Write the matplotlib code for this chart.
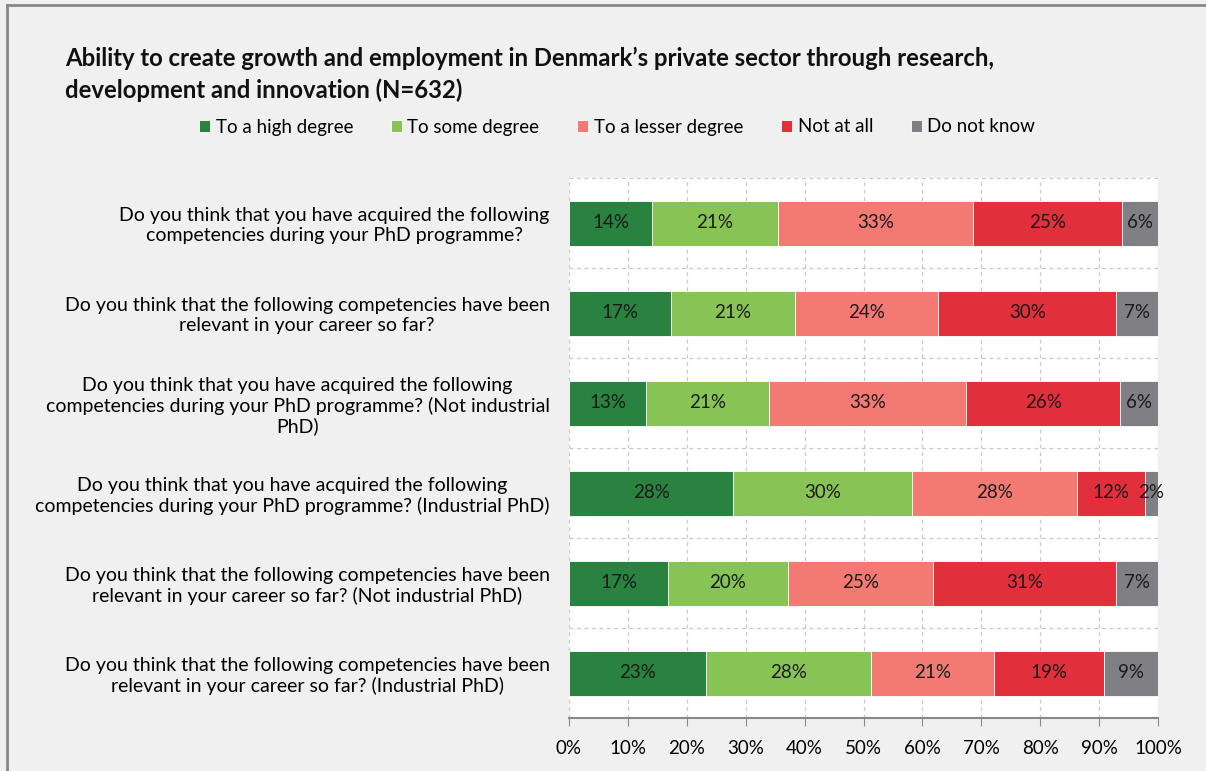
import numpy as np
import matplotlib.pyplot as plt
from matplotlib.lines import Line2D

plt.rcParams['font.family'] = ['Lato', 'DejaVu Sans']

questions = [
    "Do you think that you have acquired the following\ncompetencies during your PhD programme?",
    "Do you think that the following competencies have been\nrelevant in your career so far?",
    "Do you think that you have acquired the following\ncompetencies during your PhD programme? (Not industrial\nPhD)",
    "Do you think that you have acquired the following\ncompetencies during your PhD programme? (Industrial PhD)",
    "Do you think that the following competencies have been\nrelevant in your career so far? (Not industrial PhD)",
    "Do you think that the following competencies have been\nrelevant in your career so far? (Industrial PhD)",
]
series_names = ["To a high degree", "To some degree", "To a lesser degree", "Not at all", "Do not know"]
high = [14.1, 17.3, 13.1, 27.9, 16.8, 23.2]
some = [21.4, 21.0, 20.9, 30.3, 20.4, 28.0]
lesser = [33.1, 24.4, 33.4, 28.0, 24.6, 21.0]
not_at_all = [25.3, 30.2, 26.2, 11.6, 31.1, 18.6]
dont_know = [6.1, 7.1, 6.4, 2.2, 7.1, 9.2]
colors = ["#2a8240", "#87c455", "#f27a73", "#e1303c", "#808084"]

title = ("Ability to create growth and employment in Denmark\u2019s private sector through research,\n"
         "development and innovation (N=632)")

fig = plt.figure(figsize=(12.06, 7.71), dpi=100, facecolor="#f0f0f0")
ax = fig.add_axes([569 / 1206, 1 - 718 / 771, (1158 - 569) / 1206, 540 / 771])
ax.set_facecolor("white")

# frame of the chart area: only left and top edges are visible
bx, by = 7 / 1206, 1 - 5 / 771
fig.add_artist(Line2D([bx, 1.0], [by, by], transform=fig.transFigure, color="#888888", linewidth=2))
fig.add_artist(Line2D([bx, bx], [0.0, by], transform=fig.transFigure, color="#888888", linewidth=2))

y = np.arange(len(questions))
left = np.zeros(len(questions))
for name, vals, col in zip(series_names, [high, some, lesser, not_at_all, dont_know], colors):
    vals = np.array(vals)
    ax.barh(y, vals, left=left, height=0.5, color=col, label=name,
            edgecolor="white", linewidth=0.6, zorder=3)
    for xl, v, yy in zip(left, vals, y):
        ax.text(xl + v / 2, yy, f"{v:.0f}%", ha="center", va="center", fontsize=13.5,
                color="#1a1a1a", zorder=4)
    left = left + vals

ax.set_xlim(0, 100)
ax.set_ylim(len(questions) - 0.5, -0.5)
ax.set_xticks(np.arange(0, 101, 10))
ax.set_xticklabels([f"{t}%" for t in range(0, 101, 10)], fontsize=13.5)
ax.set_yticks(y)
ax.set_yticklabels(questions, fontsize=14, multialignment="center")
ax.set_yticks(np.arange(-0.5, len(questions), 1), minor=True)
ax.tick_params(axis="y", which="both", length=0, pad=14)
ax.tick_params(axis="x", length=6, color="#888888", pad=10)
ax.grid(axis="x", color="#c8c8c8", linestyle=(0, (3, 3)), linewidth=0.9, zorder=0)
ax.grid(axis="y", which="minor", color="#c8c8c8", linestyle=(0, (3, 3)), linewidth=0.9, zorder=0)
for s in ["top", "right", "left"]:
    ax.spines[s].set_visible(False)
ax.spines["bottom"].set_color("#888888")
ax.spines["bottom"].set_linewidth(1.5)

fig.text(65 / 1206, 1 - 47 / 771, title, fontsize=17.2, fontweight="bold", va="top", ha="left",
         linespacing=1.4, color="#111111")

fig.legend(loc="center", bbox_to_anchor=(617 / 1206, 1 - 127 / 771), ncol=5, frameon=False,
           fontsize=13.5, handlelength=0.6, handleheight=0.6, handletextpad=0.3, columnspacing=2.0)

fig.savefig("out.png", dpi=100, facecolor=fig.get_facecolor())
